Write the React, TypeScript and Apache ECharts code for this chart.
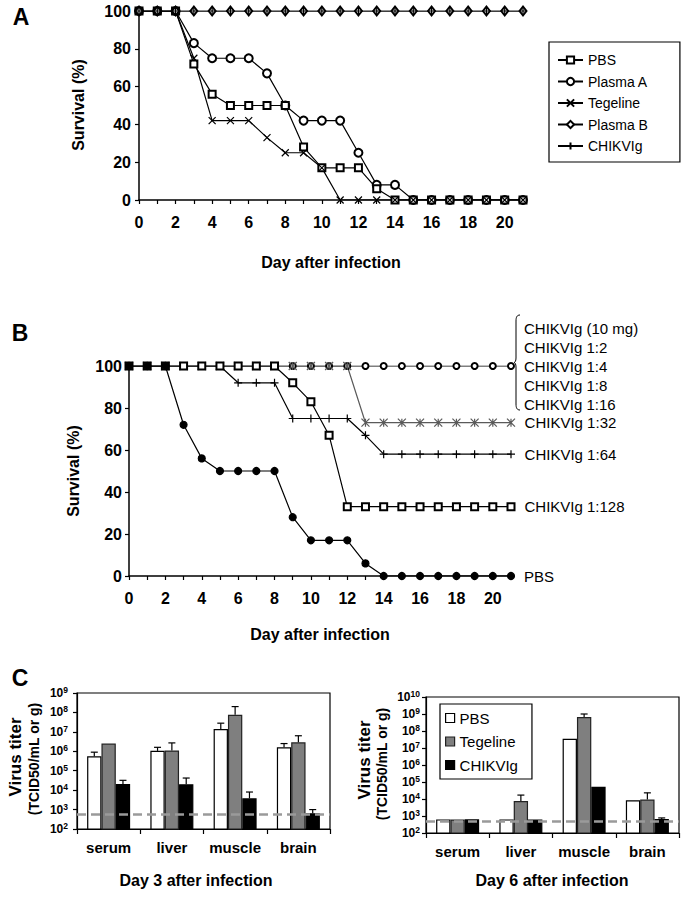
import React, { useEffect, useRef } from 'react';
import * as echarts from 'echarts';

const FONT = 'Arial, "Liberation Sans", Helvetica, sans-serif';

// ---------- Panel A ----------
const days = [0, 1, 2, 3, 4, 5, 6, 7, 8, 9, 10, 11, 12, 13, 14, 15, 16, 17, 18, 19, 20, 21];
const aPBS = [100, 100, 100, 72, 56, 50, 50, 50, 50, 28, 17, 17, 17, 6, 0, 0, 0, 0, 0, 0, 0, 0];
const aPlasmaA = [100, 100, 100, 83, 75, 75, 75, 67, 50, 42, 42, 42, 25, 8, 8, 0, 0, 0, 0, 0, 0, 0];
const aTegeline = [100, 100, 100, 75, 42, 42, 42, 33, 25, 25, 17, 0, 0, 0, 0, 0, 0, 0, 0, 0, 0, 0];
const aPlasmaB = [100, 100, 100, 100, 100, 100, 100, 100, 100, 100, 100, 100, 100, 100, 100, 100, 100, 100, 100, 100, 100, 100];
const aCHIKVIg = [100, 100, 100, 100, 100, 100, 100, 100, 100, 100, 100, 100, 100, 100, 100, 100, 100, 100, 100, 100, 100, 100];
const aLegend = ['PBS', 'Plasma A', 'Tegeline', 'Plasma B', 'CHIKVIg'];

// ---------- Panel B ----------
const bPBS = [100, 100, 100, 72, 56, 50, 50, 50, 50, 28, 17, 17, 17, 6, 0, 0, 0, 0, 0, 0, 0, 0];
const b128 = [100, 100, 100, 100, 100, 100, 100, 100, 100, 92, 83, 67, 33, 33, 33, 33, 33, 33, 33, 33, 33, 33];
const b64 = [100, 100, 100, 100, 100, 100, 92, 92, 92, 75, 75, 75, 75, 67, 58, 58, 58, 58, 58, 58, 58, 58];
const b32 = [100, 100, 100, 100, 100, 100, 100, 100, 100, 100, 100, 100, 100, 73, 73, 73, 73, 73, 73, 73, 73, 73];
const b10to16 = [100, 100, 100, 100, 100, 100, 100, 100, 100, 100, 100, 100, 100, 100, 100, 100, 100, 100, 100, 100, 100, 100];
const bGroupLabel = ['CHIKVIg (10 mg)', 'CHIKVIg 1:2', 'CHIKVIg 1:4', 'CHIKVIg 1:8', 'CHIKVIg 1:16'];

// ---------- Panel C ----------
const tissues = ['serum', 'liver', 'muscle', 'brain'];
const d3PBS = [5.5e5, 1.05e6, 1.4e7, 1.6e6];
const d3PBSErr = [9e5, 1.6e6, 2.8e7, 2.5e6];
const d3Teg = [2.5e6, 1.1e6, 7.5e7, 2.9e6];
const d3TegErr = [null, 2.7e6, 2.0e8, 6.3e6];
const d3Chik = [2.1e4, 2.0e4, 3.8e3, 6.5e2];
const d3ChikErr = [3.2e4, 4.2e4, 8e3, 1e3];
const d6PBS = [6.3e2, 6.3e2, 3.5e7, 8.5e3];
const d6PBSErr = [null, null, null, null];
const d6Teg = [6.2e2, 7.5e3, 6.6e8, 9.3e3];
const d6TegErr = [null, 1.7e4, 1.0e9, 2.3e4];
const d6Chik = [6.4e2, 6.2e2, 5.3e4, 6.7e2];
const d6ChikErr = [null, null, null, 7.7e2];
const limitD3 = 580;
const limitD6 = 520;

const BRACE_D = 'M6,0 C3,0 2,2 2,6 L2,43 C2,46 1,47.5 0,47.5 C1,47.5 2,49 2,52 L2,89 C2,93 3,95 6,95';
echarts.graphic.registerShape('brace', echarts.graphic.extendPath(BRACE_D, {}));

const SYM_X = 'path://M0,0L10,10M10,0L0,10';
const SYM_PLUS = 'path://M5,0L5,10M0,5L10,5';
const SYM_AST = 'path://M5,0L5,10M0,0L10,10M10,0L0,10';

function pts(vals: number[]) {
  return days.map((d, i) => [d, vals[i]]);
}

function lineS(name: string, vals: number[], symbol: string, size: any, axis: number, color = '#000', lastLabel?: any) {
  const data: any[] = pts(vals);
  if (lastLabel) {
    const i = data.length - 1;
    data[i] = { value: data[i], label: lastLabel };
  }
  return {
    type: 'line',
    name,
    xAxisIndex: axis,
    yAxisIndex: axis,
    data,
    symbol,
    symbolSize: size,
    showAllSymbol: true,
    lineStyle: { color, width: 1.2 },
    itemStyle: { color, borderColor: color, borderWidth: 1.2 },
    emphasis: { disabled: true },
  };
}

function endLabel(text: string) {
  return {
    show: true,
    position: 'right',
    distance: 9,
    formatter: text,
    color: '#000',
    fontSize: 15,
    fontFamily: FONT,
    lineHeight: 19,
    align: 'left',
  };
}

function barS(name: string, vals: number[], axis: number, color: string, border: string, limit?: number) {
  const s: any = {
    type: 'bar',
    name,
    xAxisIndex: axis,
    yAxisIndex: axis,
    data: vals,
    barGap: '0%',
    barCategoryGap: '32%',
    clip: true,
    itemStyle: { color, borderColor: border, borderWidth: 1.2 },
    emphasis: { disabled: true },
  };
  if (limit != null) {
    s.markLine = {
      silent: true,
      symbol: 'none',
      label: { show: false },
      lineStyle: { color: '#9a9a9a', width: 2.5, type: [9, 5] },
      data: [{ yAxis: limit }],
    };
  }
  return s;
}

function errS(axis: number, groups: { vals: number[]; errs: (number | null)[] }[]) {
  const rows: number[][] = [];
  groups.forEach((g, s) => {
    g.vals.forEach((v, c) => {
      const e = g.errs[c];
      if (e != null) rows.push([c, s, v, e]);
    });
  });
  return {
    type: 'custom',
    xAxisIndex: axis,
    yAxisIndex: axis,
    z: 4,
    silent: true,
    encode: { x: 0, y: 2 },
    data: rows,
    renderItem: (_p: any, api: any) => {
      const c = api.value(0);
      const s = api.value(1);
      const top = api.value(2);
      const err = api.value(3);
      const p0 = api.coord([c, top]);
      const p1 = api.coord([c, err]);
      const band = Math.abs(api.coord([1, top])[0] - api.coord([0, top])[0]);
      const bw = (band * 0.68) / 3;
      const x = p0[0] - band * 0.34 + bw * (s + 0.5);
      return {
        type: 'group',
        children: [
          { type: 'line', shape: { x1: x, y1: p0[1], x2: x, y2: p1[1] }, style: { stroke: '#000', lineWidth: 1.2 } },
          { type: 'line', shape: { x1: x - 3.5, y1: p1[1], x2: x + 3.5, y2: p1[1] }, style: { stroke: '#000', lineWidth: 1.2 } },
        ],
      };
    },
  };
}

const boldTick = { color: '#000', fontSize: 16, fontWeight: 'bold', fontFamily: FONT };

function dayAxis(grid: number) {
  return {
    type: 'value',
    gridIndex: grid,
    min: 0,
    max: 21,
    interval: 1,
    axisLine: { show: true, lineStyle: { color: '#000', width: 1.5 } },
    axisTick: { show: true, length: 4, lineStyle: { color: '#000', width: 1.2 } },
    splitLine: { show: false },
    axisLabel: { ...boldTick, margin: 14, formatter: (v: number) => (v % 2 === 0 ? String(v) : '') },
  };
}

function survAxis(grid: number, margin: number) {
  return {
    type: 'value',
    gridIndex: grid,
    min: 0,
    max: 100,
    interval: 20,
    axisLine: { show: true, lineStyle: { color: '#000', width: 1.5 } },
    axisTick: { show: true, length: 4, lineStyle: { color: '#000', width: 1.2 } },
    splitLine: { show: false },
    axisLabel: { ...boldTick, margin },
  };
}

function catAxis(grid: number) {
  return {
    type: 'category',
    gridIndex: grid,
    data: tissues,
    axisLine: { show: true, lineStyle: { color: '#000', width: 1.2 } },
    axisTick: { show: true, length: 5, alignWithLabel: false, interval: 0, lineStyle: { color: '#000', width: 1.2 } },
    axisLabel: { interval: 0, hideOverlap: false, color: '#000', fontSize: 15, fontWeight: 'bold', fontFamily: FONT, margin: 11 },
  };
}

function logAxis(grid: number, max: number, margin: number) {
  return {
    type: 'log',
    logBase: 10,
    gridIndex: grid,
    min: 100,
    max,
    interval: 1,
    axisLine: { show: true, lineStyle: { color: '#000', width: 1.2 } },
    axisTick: { show: true, length: 4, lineStyle: { color: '#000', width: 1.2 } },
    splitLine: { show: false },
    axisLabel: {
      margin,
      formatter: (v: number) => '{b|10}{s|' + Math.round(Math.log10(v)) + '}',
      rich: {
        b: { fontSize: 12, fontWeight: 'bold', fontFamily: FONT, color: '#000', lineHeight: 15 },
        s: { fontSize: 8.5, fontWeight: 'bold', fontFamily: FONT, color: '#000', lineHeight: 9, verticalAlign: 'top' },
      },
    },
  };
}

function txt(text: string, x: number, y: number, size: number, rot = 0, weight = 'bold') {
  return {
    type: 'text',
    x,
    y,
    rotation: rot,
    silent: true,
    style: {
      text,
      fill: '#000',
      fontSize: size,
      fontWeight: weight,
      fontFamily: FONT,
      textAlign: 'center',
      textVerticalAlign: 'middle',
    },
  };
}

const R = Math.PI / 2;

export default function App() {
  const ref = useRef<HTMLDivElement>(null);
  useEffect(() => {
    if (!ref.current) return;
    const chart = echarts.init(ref.current, undefined, { renderer: 'svg' });
    const option: any = {
      animation: false,
      backgroundColor: '#fff',
      grid: [
        { left: 139, top: 11, width: 384, height: 189, containLabel: false },
        { left: 129, top: 366, width: 382, height: 210, containLabel: false },
        { left: 77, top: 693, width: 253, height: 136, show: true, borderColor: '#000', borderWidth: 1.2, containLabel: false },
        { left: 426, top: 697, width: 253, height: 136, show: true, borderColor: '#000', borderWidth: 1.2, containLabel: false },
      ],
      xAxis: [dayAxis(0), dayAxis(1), catAxis(2), catAxis(3)],
      yAxis: [survAxis(0, 8), survAxis(1, 7), logAxis(2, 1e9, 9), logAxis(3, 1e10, 6)],
      legend: [
        {
          data: aLegend,
          orient: 'vertical',
          left: 549,
          top: 42,
          padding: [11, 32, 9, 8],
          itemGap: 7.5,
          itemWidth: 25,
          itemHeight: 9,
          borderColor: '#000',
          borderWidth: 1.2,
          backgroundColor: '#fff',
          selectedMode: false,
          textStyle: { fontSize: 14, fontFamily: FONT, color: '#000', lineHeight: 14 },
        },
        {
          data: [
            { name: 'PBS (C)', icon: 'rect', itemStyle: { color: '#fff', borderColor: '#000', borderWidth: 1.2 } },
            { name: 'Tegeline (C)', icon: 'rect', itemStyle: { color: '#7f7f7f', borderColor: '#222', borderWidth: 1.2 } },
            { name: 'CHIKVIg (C)', icon: 'rect', itemStyle: { color: '#000', borderColor: '#000', borderWidth: 1.2 } },
          ],
          formatter: (n: string) => n.replace(' (C)', ''),
          orient: 'vertical',
          left: 440,
          top: 704,
          padding: [6, 14, 6, 5],
          itemGap: 7.5,
          itemWidth: 9,
          itemHeight: 9,
          borderColor: '#000',
          borderWidth: 1.2,
          backgroundColor: '#fff',
          selectedMode: false,
          textStyle: { fontSize: 15, fontFamily: FONT, color: '#000', lineHeight: 16 },
        },
      ],
      series: [
        // Panel A
        lineS('Plasma A', aPlasmaA, 'emptyCircle', 8, 0),
        lineS('PBS', aPBS, 'emptyRect', 7, 0),
        lineS('Tegeline', aTegeline, SYM_X, 7, 0),
        lineS('Plasma B', aPlasmaB, 'emptyDiamond', [7, 9], 0),
        lineS('CHIKVIg', aCHIKVIg, SYM_PLUS, 8, 0),
        // Panel B
        lineS('B 10mg-1:16', b10to16, 'emptyCircle', 6, 1, '#000', endLabel(bGroupLabel.join('\n'))),
        lineS('B 1:64', b64, SYM_PLUS, 8, 1, '#000', endLabel('CHIKVIg 1:64')),
        lineS('B 1:32', b32, SYM_AST, 8, 1, '#5a5a5a', endLabel('CHIKVIg 1:32')),
        lineS('B 1:128', b128, 'emptyRect', 7, 1, '#000', endLabel('CHIKVIg 1:128')),
        lineS('B PBS', bPBS, 'circle', 7, 1, '#000', endLabel('PBS')),
        // Panel C day 3
        barS('PBS (C)', d3PBS, 2, '#fff', '#000'),
        barS('Tegeline (C)', d3Teg, 2, '#7f7f7f', '#222'),
        barS('CHIKVIg (C)', d3Chik, 2, '#000', '#000', limitD3),
        errS(2, [
          { vals: d3PBS, errs: d3PBSErr },
          { vals: d3Teg, errs: d3TegErr },
          { vals: d3Chik, errs: d3ChikErr },
        ]),
        // Panel C day 6
        barS('PBS (C)', d6PBS, 3, '#fff', '#000'),
        barS('Tegeline (C)', d6Teg, 3, '#7f7f7f', '#222'),
        barS('CHIKVIg (C)', d6Chik, 3, '#000', '#000', limitD6),
        errS(3, [
          { vals: d6PBS, errs: d6PBSErr },
          { vals: d6Teg, errs: d6TegErr },
          { vals: d6Chik, errs: d6ChikErr },
        ]),
      ],
      graphic: [
        txt('A', 21, 17, 23),
        txt('B', 20, 333, 23),
        txt('C', 20, 678, 23),
        txt('Survival (%)', 78, 105, 16, R),
        txt('Day after infection', 331, 262, 16),
        txt('Survival (%)', 73, 471, 16, R),
        txt('Day after infection', 320, 634, 16),
        txt('Virus titer', 15, 757, 17, R),
        txt('(TCID50/mL or g)', 34, 759, 14, R),
        txt('Virus titer', 364, 760, 17, R),
        txt('(TCID50/mL or g)', 382, 764, 14, R),
        txt('Day 3 after infection', 196, 880, 16),
        txt('Day 6 after infection', 552, 880, 16),
        {
          type: 'brace',
          x: 514,
          y: 315,
          silent: true,
          style: { stroke: '#000', fill: 'none', lineWidth: 1 },
        },
      ],
    };
    chart.setOption(option);
    return () => chart.dispose();
  }, []);
  return (
    <div
      ref={ref}
      style={{ position: 'fixed', left: 0, top: 0, width: 681, height: 900, background: '#fff' }}
    />
  );
}
